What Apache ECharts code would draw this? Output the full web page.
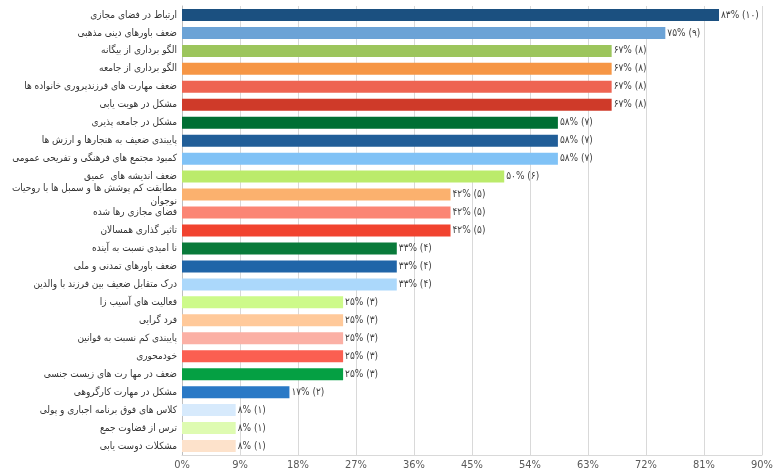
<!DOCTYPE html>
<html><head><meta charset="utf-8">
<script src="https://cdn.jsdelivr.net/npm/echarts@6/dist/echarts.min.js"></script>
<style>html,body{margin:0;padding:0;background:#fff}#c{width:780px;height:475px}</style>
</head><body><div id="c"></div>
<script>
const categories = [
  "ارتباط در فضای مجازی",
  "ضعف باورهای دینی مذهبی",
  "الگو برداری از بیگانه",
  "الگو برداری از جامعه",
  "ضعف مهارت های فرزندپروری خانواده ها",
  "مشکل در هویت یابی",
  "مشکل در جامعه پذیری",
  "پایبندی ضعیف به هنجارها و ارزش ها",
  "کمبود مجتمع های فرهنگی و تفریحی عمومی",
  "ضعف اندیشه های  عمیق",
  "مطابقت کم پوشش ها و سمبل ها با روحیات\nنوجوان",
  "فضای مجازی رها شده",
  "تاثیر گذاری همسالان",
  "نا امیدی نسبت به آینده",
  "ضعف باورهای تمدنی و ملی",
  "درک متقابل ضعیف بین فرزند با والدین",
  "فعالیت های آسیب زا",
  "فرد گرایی",
  "پایبندی کم نسبت به قوانین",
  "خودمحوری",
  "ضعف در مها رت های زیست جنسی",
  "مشکل در مهارت کارگروهی",
  "کلاس های فوق برنامه اجباری و پولی",
  "ترس از قضاوت جمع",
  "مشکلات دوست یابی"
];
const counts = [10, 9, 8, 8, 8, 8, 7, 7, 7, 6, 5, 5, 5, 4, 4, 4, 3, 3, 3, 3, 3, 2, 1, 1, 1];
const percents = [83.33, 75, 66.67, 66.67, 66.67, 66.67, 58.33, 58.33, 58.33, 50, 41.67, 41.67, 41.67, 33.33, 33.33, 33.33, 25, 25, 25, 25, 25, 16.67, 8.33, 8.33, 8.33];
const colors = ["#1B5080","#6CA3D6","#9CC55C","#F69645","#EE6452","#CF3A29","#006F34","#215E98","#80C2F6","#BBEB6B","#FBB16E","#FB8574","#F1432F","#097A3A","#2065A8","#ABD8FB","#CDFA8A","#FFC99A","#FBB0A5","#FB5F51","#05A043","#2A79C6","#D7EAFC","#DEFBB1","#FDE2CB"];
const xTicks = [0, 9, 18, 27, 36, 45, 54, 63, 72, 81, 90];

const fa = s => String(s).replace(/[0-9]/g, d => "۰۱۲۳۴۵۶۷۸۹"[d]);

const chart = echarts.init(document.getElementById('c'), null, {renderer: 'canvas'});
chart.setOption({
  animation: false,
  textStyle: {fontFamily: "DejaVu Sans Condensed"},
  grid: {left: 182, right: 18, top: 6, bottom: 20, containLabel: false, outerBoundsMode: 'none'},
  xAxis: {
    type: 'value', min: xTicks[0], max: xTicks[xTicks.length - 1], interval: xTicks[1] - xTicks[0],
    axisLine: {show: true, lineStyle: {color: '#d9d9d9'}},
    axisTick: {show: false},
    splitLine: {show: true, lineStyle: {color: '#d9d9d9', width: 1}},
    axisLabel: {formatter: v => v + '%', color: '#595959', fontSize: 11, margin: 5, fontFamily: 'DejaVu Sans Condensed'}
  },
  yAxis: {
    type: 'category', data: categories, inverse: true,
    axisLine: {show: true, lineStyle: {color: '#bfbfbf'}},
    axisTick: {show: false},
    axisLabel: {color: '#333', fontSize: 10, margin: 5, lineHeight: 13, fontFamily: 'DejaVu Sans Condensed', interval: 0}
  },
  series: [{
    type: 'bar', barWidth: 12,
    data: percents.map((p, i) => ({value: p, itemStyle: {color: colors[i]}})),
    label: {
      show: true, position: 'right', distance: 2, color: '#404040', fontSize: 10, fontFamily: 'DejaVu Sans Condensed',
      formatter: p => fa(Math.round(percents[p.dataIndex])) + '% (' + fa(counts[p.dataIndex]) + ')'
    }
  }]
});
</script></body></html>
